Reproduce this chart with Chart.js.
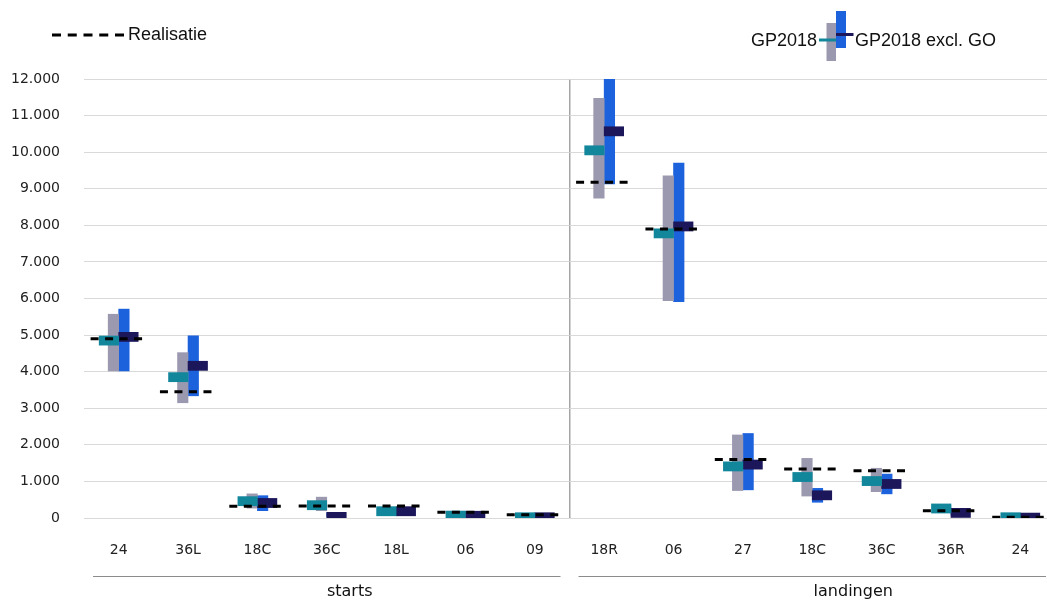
<!DOCTYPE html>
<html>
<head>
<meta charset="utf-8">
<script src="https://cdn.jsdelivr.net/npm/chart.js@4/dist/chart.umd.min.js"></script>
<style>
  html, body { margin: 0; padding: 0; background: #fff; overflow: hidden; }
  #wrap { width: 1047px; height: 601px; position: relative; overflow: hidden; }
  #c { position: absolute; left: 0; top: 0; }
</style>
</head>
<body>
<div id="wrap"><canvas id="c" width="1055" height="601"></canvas></div>
<script>
// ---- data ----
const categories = ['24','36L','18C','36C','18L','06','09','18R','06','27','18C','36C','36R','24'];
const groupNames = ['starts', 'landingen'];
const groupSizes = [7, 7];

const gpMin   = [4020, 3150, 270, 200, 110,  40,  30,  8740, 5940,  750,  600,  720, 170,  30];
const gpMax   = [5570, 4520, 660, 570, 240, 130, 110, 11470, 9350, 2270, 1630, 1360, 340, 120];
const exMin   = [4020, 3340, 200,  40,  80,  40,  30,  9130, 5910,  770,  430,  660,  80,  20];
const exMax   = [5710, 4980, 610, 140, 220, 130, 100, 12300, 9700, 2310,  810, 1200, 220, 100];
const gpMean  = [4850, 3850, 460, 350, 185,  65,  20, 10050, 7780, 1410, 1120, 1010, 260,  20];
const exMean  = [4950, 4160, 410,  30, 185,  60,  20, 10570, 7970, 1460,  620,  930, 140,  10];
const realisatie = [4900, 3450, 320, 330, 330, 160, 90, 9180, 7900, 1600, 1340, 1290, 200, 20];

const yTicksMax = 12000, yStep = 1000;

// ---- styling constants ----
const C_GRAY = '#9b99b0', C_BLUE = '#1c62dc', C_TEAL = '#12869a', C_NAVY = '#1b175a';
const MEAN_HALF = 125;      // half-height of mean marker (value units)
const RANGE_W = 10.5;       // px width of range bars
const MEAN_W = 19.5;        // px width of mean markers
const CAT_W = 971 / 14;     // approx px per category (for side offsets)
const offR = RANGE_W / 2 / CAT_W, offM = MEAN_W / 2 / CAT_W;

const rangeGp = gpMin.map((v, i) => ({x: i - offR, y: [v, gpMax[i]]}));
const rangeEx = exMin.map((v, i) => ({x: i + offR, y: [v, exMax[i]]}));
const meanGp = gpMean.map((v, i) => ({x: i - offM, y: [v - MEAN_HALF, v + MEAN_HALF]}));
const meanEx = exMean.map((v, i) => ({x: i + offM, y: [v - MEAN_HALF, v + MEAN_HALF]}));
const realLine = [];
realisatie.forEach((v, i) => {
  realLine.push({x: i - 0.405, y: v}, {x: i + 0.405, y: v}, {x: i + 0.5, y: null});
});

const fmt = v => String(v).replace(/\B(?=(\d{3})+(?!\d))/g, '.');

Chart.defaults.font.family = '"DejaVu Sans", sans-serif';
Chart.defaults.color = '#222';

const overlay = {
  id: 'overlay',
  afterDraw(chart) {
    const ctx = chart.ctx;
    const x = chart.scales.x;
    ctx.save();
    // legend: Realisatie
    ctx.strokeStyle = '#000';
    ctx.lineWidth = 3;
    ctx.setLineDash([9, 6.75]);
    ctx.beginPath(); ctx.moveTo(52, 35); ctx.lineTo(124, 35); ctx.stroke();
    ctx.setLineDash([]);
    ctx.font = '18px "Liberation Sans", Arial, sans-serif';
    ctx.fillStyle = '#111';
    ctx.textBaseline = 'middle';
    ctx.textAlign = 'left';
    ctx.fillText('Realisatie', 128, 35);
    // legend: GP2018 / GP2018 excl. GO
    ctx.fillStyle = C_GRAY; ctx.fillRect(826.5, 23, 9.5, 38);
    ctx.fillStyle = C_BLUE; ctx.fillRect(836, 11, 10, 37);
    ctx.fillStyle = C_TEAL; ctx.fillRect(819, 38.5, 17, 3);
    ctx.fillStyle = C_NAVY; ctx.fillRect(836, 33, 17.5, 3);
    ctx.fillStyle = '#111';
    ctx.textAlign = 'right';
    ctx.fillText('GP2018', 817, 41.5);
    ctx.textAlign = 'left';
    ctx.fillText('GP2018 excl. GO', 855, 41.5);
    // group lines and labels
    const catW = (x.right - x.left) / categories.length;
    const labelShift = [23, 41];
    let start = 0;
    ctx.strokeStyle = '#8c8c8c';
    ctx.lineWidth = 1;
    ctx.font = '16px "DejaVu Sans", sans-serif';
    ctx.fillStyle = '#111';
    ctx.textAlign = 'center';
    groupNames.forEach((g, gi) => {
      const end = start + groupSizes[gi] - 1;
      const l = x.getPixelForValue(start) - catW / 2 + 9;
      const r = x.getPixelForValue(end) + catW / 2 - 9;
      ctx.beginPath(); ctx.moveTo(l, 576.5); ctx.lineTo(r, 576.5); ctx.stroke();
      ctx.fillText(g, (l + r) / 2 + labelShift[gi], 591.5);
      start = end + 1;
    });
    ctx.restore();
  }
};

const barCommon = { type: 'bar', xAxisID: 'xb', yAxisID: 'y', grouped: false };

new Chart(document.getElementById('c'), {
  data: {
    labels: categories,
    datasets: [
      { type: 'line', label: 'Realisatie', data: realLine, xAxisID: 'xb', yAxisID: 'y',
        borderColor: '#000', borderWidth: 3, borderDash: [8, 6.5], borderCapStyle: 'butt',
        pointRadius: 0, spanGaps: false, fill: false, order: 0 },
      Object.assign({ label: 'GP2018 gem.', data: meanGp, backgroundColor: C_TEAL,
        barThickness: MEAN_W, order: 1 }, barCommon),
      Object.assign({ label: 'GP2018 excl. GO gem.', data: meanEx, backgroundColor: C_NAVY,
        barThickness: MEAN_W, order: 1 }, barCommon),
      Object.assign({ label: 'GP2018', data: rangeGp, backgroundColor: C_GRAY,
        barThickness: RANGE_W, order: 2 }, barCommon),
      Object.assign({ label: 'GP2018 excl. GO', data: rangeEx, backgroundColor: C_BLUE,
        barThickness: RANGE_W, order: 2 }, barCommon)
    ]
  },
  options: {
    responsive: false,
    animation: false,
    layout: { padding: { top: 79, right: 0, left: 0, bottom: 0 } },
    plugins: { legend: { display: false }, tooltip: { enabled: false } },
    scales: {
      x: {
        type: 'category', labels: categories, offset: true,
        grid: { display: true, offset: true, drawTicks: false,
          color: ctx => (ctx.index === 7 ? '#a6a6a6' : 'rgba(0,0,0,0)'), lineWidth: 1.5 },
        border: { display: false },
        ticks: { padding: 24, font: { size: 14 }, color: '#222', maxRotation: 0, autoSkip: false },
        afterFit: s => { s.height = 83; }
      },
      xb: { type: 'linear', min: -0.5, max: categories.length - 0.5, display: false, offset: false },
      y: {
        stacked: false, min: 0, max: yTicksMax,
        grid: { color: '#d9d9d9', lineWidth: 1, drawTicks: false },
        border: { display: false },
        ticks: { stepSize: yStep, padding: 24, font: { size: 14 }, color: '#222',
          callback: v => fmt(v) },
        afterFit: s => { s.width = 84; }
      }
    }
  },
  plugins: [overlay]
});
</script>
</body>
</html>
